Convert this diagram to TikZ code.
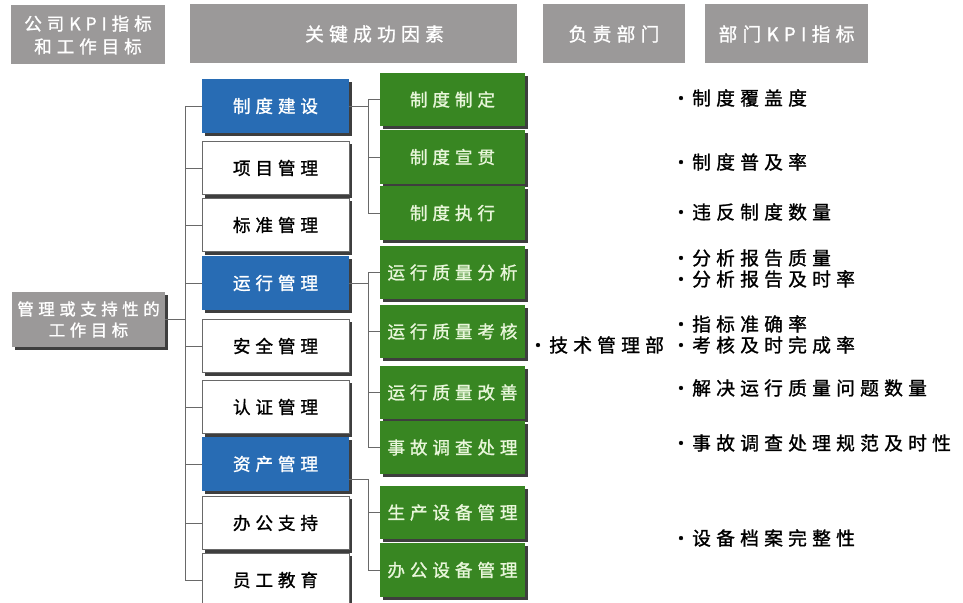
\documentclass[tikz,border=0pt]{standalone}
\usepackage{fontspec}
\setmainfont{Noto Sans CJK SC}[LetterSpace=28]
\newfontfamily\medium{Noto Sans CJK SC}[LetterSpace=28, FakeBold=1.2]
\usetikzlibrary{shadows}
\definecolor{headgray}{RGB}{155,153,153}
\definecolor{boxblue}{RGB}{40,108,180}
\definecolor{boxgreen}{RGB}{56,134,34}
\definecolor{greentext}{RGB}{232,246,218}
\definecolor{wiregray}{RGB}{105,105,105}
\definecolor{shadowgray}{RGB}{62,62,62}
\newcommand{\bul}{\makebox[0.8em][l]{\hspace*{-0.3em}·}}
\tikzset{
  box/.style={minimum width=44mm, minimum height=16mm, inner sep=0pt, font=\fontsize{15}{18}\selectfont\medium,
    drop shadow={shadow xshift=0.9mm, shadow yshift=-0.9mm, fill=shadowgray, opacity=1}},
  bluebox/.style={box, fill=boxblue, text=white},
  whitebox/.style={box, fill=white, draw=wiregray, line width=0.4pt, text=black},
  greenbox/.style={box, fill=boxgreen, text=greentext, minimum width=43.5mm},
  headbox/.style={fill=headgray, text=white, inner sep=0pt, minimum height=17.7mm, align=center,
    font=\fontsize{16}{19}\selectfont\medium},
  kpi/.style={anchor=west, inner sep=0pt, font=\fontsize{16}{19}\selectfont\medium},
  wire/.style={draw=wiregray, line width=0.5pt}
}

\begin{document}
\begin{tikzpicture}[x=0.3mm, y=-0.3mm]
\useasboundingbox (0,0) rectangle (963,603);
\node [headbox, minimum width=46.2mm, font=\fontsize{15}{19.5}\selectfont\medium] (hgoal) at (88,35) {\rule{0pt}{4mm}公司KPI指标\\和工作目标};
\node [headbox, minimum width=98.1mm] (hcsf) at (353.5,34) {\hspace*{12.6mm}关键成功因素};
\node [headbox, minimum width=42.6mm] (hdept) at (614,34) {负责部门};
\node [headbox, minimum width=48.9mm] (hkpi) at (786.5,34) {部门KPI指标};
\node [headbox, minimum width=45.9mm, minimum height=16.5mm, font=\fontsize{14}{18}\selectfont\medium,
  drop shadow={shadow xshift=0.9mm, shadow yshift=-0.9mm, fill=shadowgray, opacity=1}] (goal) at (88.5,319.5) {管理或支持性的\\工作目标};

\node [bluebox] (zhidu) at (275.5,106) {制度建设};
\node [whitebox] (xiangmu) at (275.5,168) {项目管理};
\node [whitebox] (biaozhun) at (275.5,225) {标准管理};
\node [bluebox] (yunxing) at (275.5,283) {运行管理};
\node [whitebox] (anquan) at (275.5,346) {安全管理};
\node [whitebox] (renzheng) at (275.5,407) {认证管理};
\node [bluebox] (zichan) at (275.5,464) {资产管理};
\node [whitebox] (bangong) at (275.5,523) {办公支持};
\node [whitebox] (jiaoyu) at (275.5,580) {员工教育};

\node [greenbox] (zhiding) at (452.5,99.5) {制度制定};
\node [greenbox] (xuanguan) at (452.5,157) {制度宣贯};
\node [greenbox] (zhixing) at (452.5,213) {制度执行};
\node [greenbox] (fenxi) at (452.5,272.5) {运行质量分析};
\node [greenbox] (kaohe) at (452.5,331.5) {运行质量考核};
\node [greenbox] (gaishan) at (452.5,392.5) {运行质量改善};
\node [greenbox] (shigu) at (452.5,447.5) {事故调查处理};
\node [greenbox] (shengchan) at (452.5,512.5) {生产设备管理};
\node [greenbox] (bgsb) at (452.5,570) {办公设备管理};

\node [kpi] (dept) at (534,345) {\bul 技术管理部};
\node [kpi] (k1) at (677,98) {\bul 制度覆盖度};
\node [kpi] (k2) at (677,162) {\bul 制度普及率};
\node [kpi] (k3) at (677,212) {\bul 违反制度数量};
\node [kpi] (k4) at (677,258) {\bul 分析报告质量};
\node [kpi] (k5) at (677,279) {\bul 分析报告及时率};
\node [kpi] (k6) at (677,324) {\bul 指标准确率};
\node [kpi] (k7) at (677,345) {\bul 考核及时完成率};
\node [kpi] (k8) at (677,388) {\bul 解决运行质量问题数量};
\node [kpi] (k9) at (677,443) {\bul 事故调查处理规范及时性};
\node [kpi] (k10) at (677,538) {\bul 设备档案完整性};

\coordinate (trunk) at (185,0);
\coordinate (bus) at (368,0);
\draw [wire] (goal.east) -- (goal.east -| trunk);
\draw [wire] (zhidu.west -| trunk) -- (jiaoyu.west -| trunk);
\foreach \m in {zhidu,xiangmu,biaozhun,yunxing,anquan,renzheng,zichan,bangong,jiaoyu}
  \draw [wire] (\m.west) -- (\m.west -| trunk);
\foreach \g in {zhiding,xuanguan,zhixing,fenxi,kaohe,gaishan,shigu,shengchan,bgsb}
  \draw [wire] (\g.west) -- (\g.west -| bus);
\draw [wire] (zhidu.east) -- (zhidu.east -| bus);
\draw [wire] (zhiding.west -| bus) -- (zhixing.west -| bus);
\draw [wire] (yunxing.east) -- (yunxing.east -| bus);
\draw [wire] (fenxi.west -| bus) -- (shigu.west -| bus);
\coordinate (zcout) at ([yshift=-4.5mm]zichan.east);
\draw [wire] (zcout) -- (zcout -| bus) -- (bgsb.west -| bus);
\end{tikzpicture}
\end{document}
